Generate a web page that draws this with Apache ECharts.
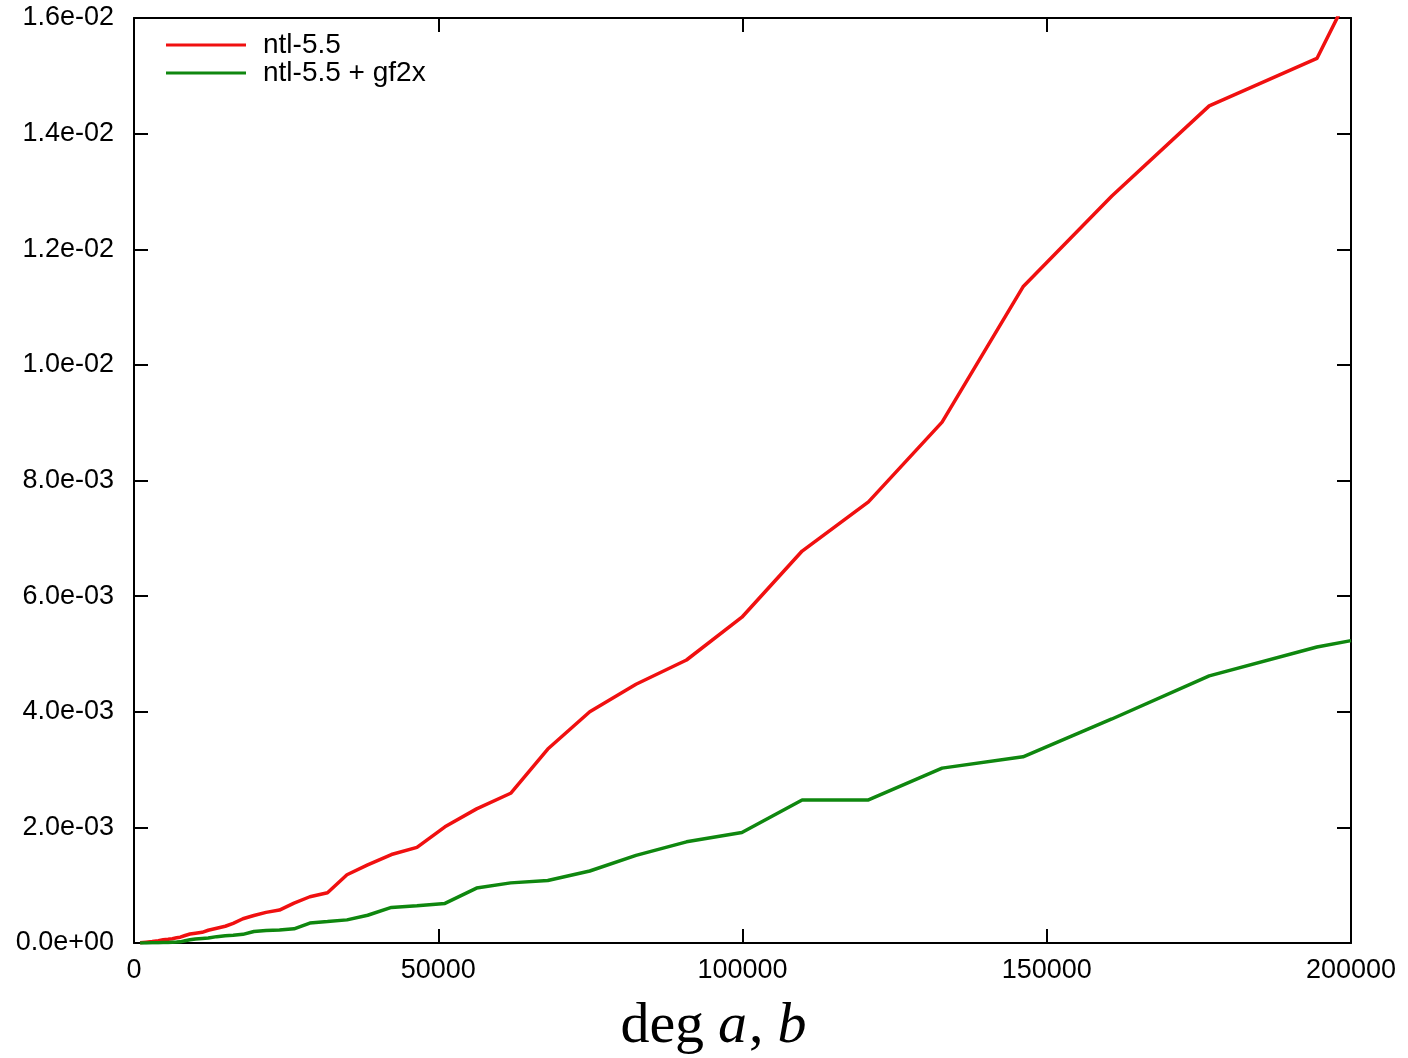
<!DOCTYPE html>
<html>
<head>
<meta charset="utf-8">
<script src="https://cdn.jsdelivr.net/npm/echarts@6/dist/echarts.min.js"></script>
<style>
  html, body { margin: 0; padding: 0; background: #ffffff; }
  #chart { width: 1408px; height: 1058px; }
</style>
</head>
<body>
<div id="chart"></div>
<script>
// degree of a, b
const degrees = [1000, 2000, 3000, 4000, 4800, 5600, 6300, 7000, 7600, 8400, 9200, 10100, 11200, 12200,
  13600, 15000, 16300, 17900, 19700, 21700, 23900, 26300, 28900, 31800, 35000, 38400, 42300, 46500,
  51100, 56300, 61900, 68000, 74900, 82500, 90800, 99900, 109800, 120700, 132800, 146100, 160700,
  176700, 194400, 200000];

// times, in units of 1e-3
const ntlTimes = [0.005, 0.015, 0.025, 0.04, 0.055, 0.065, 0.075, 0.09, 0.10, 0.13, 0.155, 0.17, 0.185, 0.22,
  0.255, 0.29, 0.34, 0.42, 0.475, 0.53, 0.57, 0.69, 0.80, 0.87, 1.18, 1.35, 1.53, 1.655,
  2.01, 2.32, 2.59, 3.355, 4.00, 4.475, 4.895, 5.635, 6.78, 7.63, 9.01, 11.35, 12.92,
  14.48, 15.30, 16.48];

const gf2xTimes = [0, 0.002, 0.004, 0.006, 0.008, 0.010, 0.013, 0.016, 0.02, 0.04, 0.055, 0.07, 0.078, 0.085,
  0.11, 0.125, 0.135, 0.15, 0.2, 0.215, 0.225, 0.245, 0.345, 0.37, 0.40, 0.48, 0.615, 0.645,
  0.685, 0.95, 1.04, 1.08, 1.245, 1.515, 1.75, 1.91, 2.475, 2.475, 3.025, 3.22, 3.875,
  4.62, 5.12, 5.23];

const seriesNames = ['ntl-5.5', 'ntl-5.5 + gf2x'];
const xTickValues = [0, 50000, 100000, 150000, 200000];
const yTickValues = [0, 0.002, 0.004, 0.006, 0.008, 0.010, 0.012, 0.014, 0.016];

function pairs(vals) {
  return degrees.map((d, i) => [d, vals[i] * 1e-3]);
}
function expFmt(v) {
  const s = Number(v).toExponential(1);
  const m = s.match(/^(-?[\d.]+)e([+-])(\d+)$/);
  if (!m) return s;
  let e = m[3];
  if (e.length < 2) e = '0' + e;
  return m[1] + 'e' + m[2] + e;
}

const FONT = '"Liberation Sans", Arial, sans-serif';
const SERIF = '"Liberation Serif", "DejaVu Serif", serif';
const RED = '#f01010';
const GREEN = '#0f870f';
const chart = echarts.init(document.getElementById('chart'), null, { renderer: 'canvas' });

function axisLine() { return { show: true, onZero: false, lineStyle: { color: '#000', width: 2 } }; }
function ticks() { return { show: true, inside: true, length: 14, lineStyle: { color: '#000', width: 2 } }; }

chart.setOption({
  animation: false,
  backgroundColor: '#ffffff',
  grid: { left: 134, right: 57, top: 18, bottom: 115, containLabel: false, outerBoundsMode: 'none' },
  legend: {
    orient: 'vertical',
    left: 166,
    top: 31,
    padding: 0,
    icon: 'rect',
    itemWidth: 80,
    itemHeight: 3,
    itemGap: 0,
    data: seriesNames,
    textStyle: { fontFamily: FONT, fontSize: 28, color: '#000', lineHeight: 28, padding: [0, 0, 0, 12] },
    selectedMode: false
  },
  xAxis: [{
    type: 'value',
    position: 'bottom',
    min: 0, max: 200000, interval: 50000,
    axisLine: axisLine(),
    axisTick: ticks(),
    splitLine: { show: false },
    axisLabel: { fontFamily: FONT, fontSize: 27, color: '#000', margin: 14,
      formatter: v => xTickValues.includes(v) ? String(v) : '' },
    name: '{r|deg}{i|a}{c|,}{i|b}',
    nameLocation: 'middle',
    nameGap: 55,
    nameTextStyle: {
      padding: [0, 58, 0, 0],
      rich: {
        r: { fontFamily: SERIF, fontSize: 58, color: '#000', padding: [0, 14, 0, 0] },
        c: { fontFamily: SERIF, fontSize: 58, color: '#000', padding: [0, 14, 0, 2] },
        i: { fontFamily: SERIF, fontStyle: 'italic', fontSize: 58, color: '#000' }
      }
    }
  }, {
    type: 'value',
    position: 'top',
    min: 0, max: 200000, interval: 50000,
    axisLine: axisLine(),
    axisTick: ticks(),
    axisLabel: { show: false },
    splitLine: { show: false }
  }],
  yAxis: [{
    type: 'value',
    position: 'left',
    min: 0, max: 0.016, interval: 0.002,
    axisLine: axisLine(),
    axisTick: ticks(),
    splitLine: { show: false },
    axisLabel: { fontFamily: FONT, fontSize: 27, color: '#000', margin: 20,
      formatter: v => expFmt(v) }
  }, {
    type: 'value',
    position: 'right',
    min: 0, max: 0.016, interval: 0.002,
    axisLine: axisLine(),
    axisTick: ticks(),
    axisLabel: { show: false },
    splitLine: { show: false }
  }],
  series: [{
    name: seriesNames[0],
    type: 'line',
    xAxisIndex: 0, yAxisIndex: 0,
    data: pairs(ntlTimes),
    showSymbol: false,
    symbol: 'none',
    clip: true,
    color: RED,
    lineStyle: { color: RED, width: 3.5 }
  }, {
    name: seriesNames[1],
    type: 'line',
    xAxisIndex: 0, yAxisIndex: 0,
    data: pairs(gf2xTimes),
    showSymbol: false,
    symbol: 'none',
    clip: true,
    color: GREEN,
    lineStyle: { color: GREEN, width: 3.5 }
  }]
});
</script>
</body>
</html>
